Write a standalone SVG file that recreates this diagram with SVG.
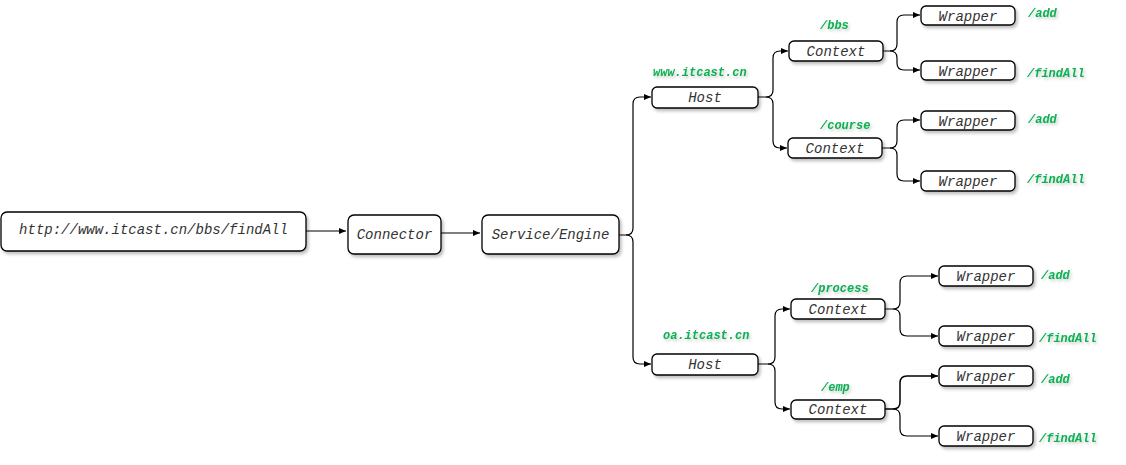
<svg xmlns="http://www.w3.org/2000/svg" width="1126" height="465" viewBox="0 0 1126 465">
<defs>
  <filter id="sh" x="-10%" y="-30%" width="130%" height="180%">
    <feDropShadow dx="2" dy="2.5" stdDeviation="1.5" flood-color="#000" flood-opacity="0.25"/>
  </filter>
  <filter id="glow" x="-10%" y="-40%" width="130%" height="190%">
    <feDropShadow dx="1.5" dy="2" stdDeviation="1.5" flood-color="#000" flood-opacity="0.2"/>
  </filter>
  <marker id="arr" markerWidth="8" markerHeight="6" refX="7" refY="3" orient="auto" markerUnits="userSpaceOnUse">
    <path d="M0,0 L7,3 L0,6 z" fill="#000"/>
  </marker>
</defs>
<style>
  .box { fill: #fff; stroke: #000; stroke-width: 1.3; filter: url(#sh); }
  .t { font-family: "Liberation Mono", "Courier New", monospace; font-style: italic; font-size: 14px; fill: #333; text-anchor: middle; }
  .g { font-family: "Liberation Mono", "Courier New", monospace; font-style: italic; font-weight: bold; font-size: 12px; fill: #0cb052; filter: url(#glow); }
  .c { fill: none; stroke: #000; stroke-width: 1.2; }
</style>
<rect width="1126" height="465" fill="#fff"/>

<g id="connectors">
  <path class="c" d="M306,231 H346" marker-end="url(#arr)"/>
  <path class="c" d="M441,233 H480" marker-end="url(#arr)"/>
  <path class="c" d="M619,235 H626 Q633,235 633,228 V104 Q633,97 640,97 H651" marker-end="url(#arr)"/>
  <path class="c" d="M626,235 Q633,235 633,242 V357 Q633,364 640,364 H651" marker-end="url(#arr)"/>
  <path class="c" d="M758,97 H766 Q773,97 773,90 V58 Q773,51 780,51 H788" marker-end="url(#arr)"/>
  <path class="c" d="M766,97 Q773,97 773,104 V141 Q773,148 780,148 H787" marker-end="url(#arr)"/>
  <path class="c" d="M758,364 H768 Q775,364 775,357 V316 Q775,309 782,309 H790" marker-end="url(#arr)"/>
  <path class="c" d="M768,364 Q775,364 775,371 V402 Q775,409 782,409 H790" marker-end="url(#arr)"/>
  <path class="c" d="M883,51 H890 Q897,51 897,44 V22 Q897,15 904,15 H920" marker-end="url(#arr)"/>
  <path class="c" d="M890,51 Q897,51 897,58 V63 Q897,70 904,70 H920" marker-end="url(#arr)"/>
  <path class="c" d="M882,148 H890 Q897,148 897,141 V127 Q897,120 904,120 H920" marker-end="url(#arr)"/>
  <path class="c" d="M890,148 Q897,148 897,155 V174 Q897,181 904,181 H920" marker-end="url(#arr)"/>
  <path class="c" d="M885,309 H893 Q900,309 900,302 V283 Q900,276 907,276 H938" marker-end="url(#arr)"/>
  <path class="c" d="M893,309 Q900,309 900,316 V329 Q900,336 907,336 H938" marker-end="url(#arr)"/>
  <path class="c" d="M885,409 H893 Q900,409 900,402 V383 Q900,376 907,376 H938" marker-end="url(#arr)" style="stroke-width:1.5"/>
  <path class="c" d="M893,409 Q900,409 900,416 V429 Q900,436 907,436 H938" marker-end="url(#arr)"/>
</g>

<g id="url">
  <rect class="box" x="1" y="212" width="305" height="39" rx="6"/>
  <text class="t" x="153.5" y="234">http://www.itcast.cn/bbs/findAll</text>
</g>
<g id="connector">
  <rect class="box" x="348" y="215" width="93" height="39" rx="6"/>
  <text class="t" x="394.5" y="239">Connector</text>
</g>
<g id="service">
  <rect class="box" x="482" y="215" width="137" height="39" rx="6"/>
  <text class="t" x="550.5" y="239">Service/Engine</text>
</g>

<g id="host1">
  <rect class="box" x="652" y="87" width="106" height="21" rx="5"/>
  <text class="t" x="705" y="101.5">Host</text>
  <text class="g" x="653" y="76">www.itcast.cn</text>
</g>
<g id="host2">
  <rect class="box" x="652" y="354" width="106" height="21" rx="5"/>
  <text class="t" x="705" y="368.5">Host</text>
  <text class="g" x="663" y="339">oa.itcast.cn</text>
</g>

<g id="ctx-bbs">
  <rect class="box" x="789" y="41" width="94" height="20" rx="5"/>
  <text class="t" x="836" y="55.5">Context</text>
  <text class="g" x="820" y="29">/bbs</text>
</g>
<g id="ctx-course">
  <rect class="box" x="788" y="138" width="94" height="20" rx="5"/>
  <text class="t" x="835" y="152.5">Context</text>
  <text class="g" x="820" y="129">/course</text>
</g>
<g id="ctx-process">
  <rect class="box" x="791" y="299" width="94" height="20" rx="5"/>
  <text class="t" x="838" y="313.5">Context</text>
  <text class="g" x="811" y="292">/process</text>
</g>
<g id="ctx-emp">
  <rect class="box" x="791" y="400" width="94" height="19" rx="5"/>
  <text class="t" x="838" y="414">Context</text>
  <text class="g" x="821" y="391">/emp</text>
</g>

<g id="w1">
  <rect class="box" x="921" y="6" width="94" height="19" rx="5"/>
  <text class="t" x="968" y="20.5">Wrapper</text>
  <text class="g" x="1028" y="17">/add</text>
</g>
<g id="w2">
  <rect class="box" x="921" y="61" width="94" height="19" rx="5"/>
  <text class="t" x="968" y="75.5">Wrapper</text>
  <text class="g" x="1027" y="77">/findAll</text>
</g>
<g id="w3">
  <rect class="box" x="921" y="111" width="94" height="19" rx="5"/>
  <text class="t" x="968" y="125.5">Wrapper</text>
  <text class="g" x="1028" y="123">/add</text>
</g>
<g id="w4">
  <rect class="box" x="921" y="171" width="94" height="20" rx="5"/>
  <text class="t" x="968" y="186">Wrapper</text>
  <text class="g" x="1027" y="183">/findAll</text>
</g>
<g id="w5">
  <rect class="box" x="939" y="266" width="94" height="20" rx="5"/>
  <text class="t" x="986" y="281">Wrapper</text>
  <text class="g" x="1041" y="279">/add</text>
</g>
<g id="w6">
  <rect class="box" x="939" y="326" width="94" height="20" rx="5"/>
  <text class="t" x="986" y="341">Wrapper</text>
  <text class="g" x="1039" y="342">/findAll</text>
</g>
<g id="w7">
  <rect class="box" x="939" y="366" width="94" height="20" rx="5"/>
  <text class="t" x="986" y="381">Wrapper</text>
  <text class="g" x="1041" y="383">/add</text>
</g>
<g id="w8">
  <rect class="box" x="939" y="426" width="94" height="20" rx="5"/>
  <text class="t" x="986" y="441">Wrapper</text>
  <text class="g" x="1039" y="442">/findAll</text>
</g>
</svg>
